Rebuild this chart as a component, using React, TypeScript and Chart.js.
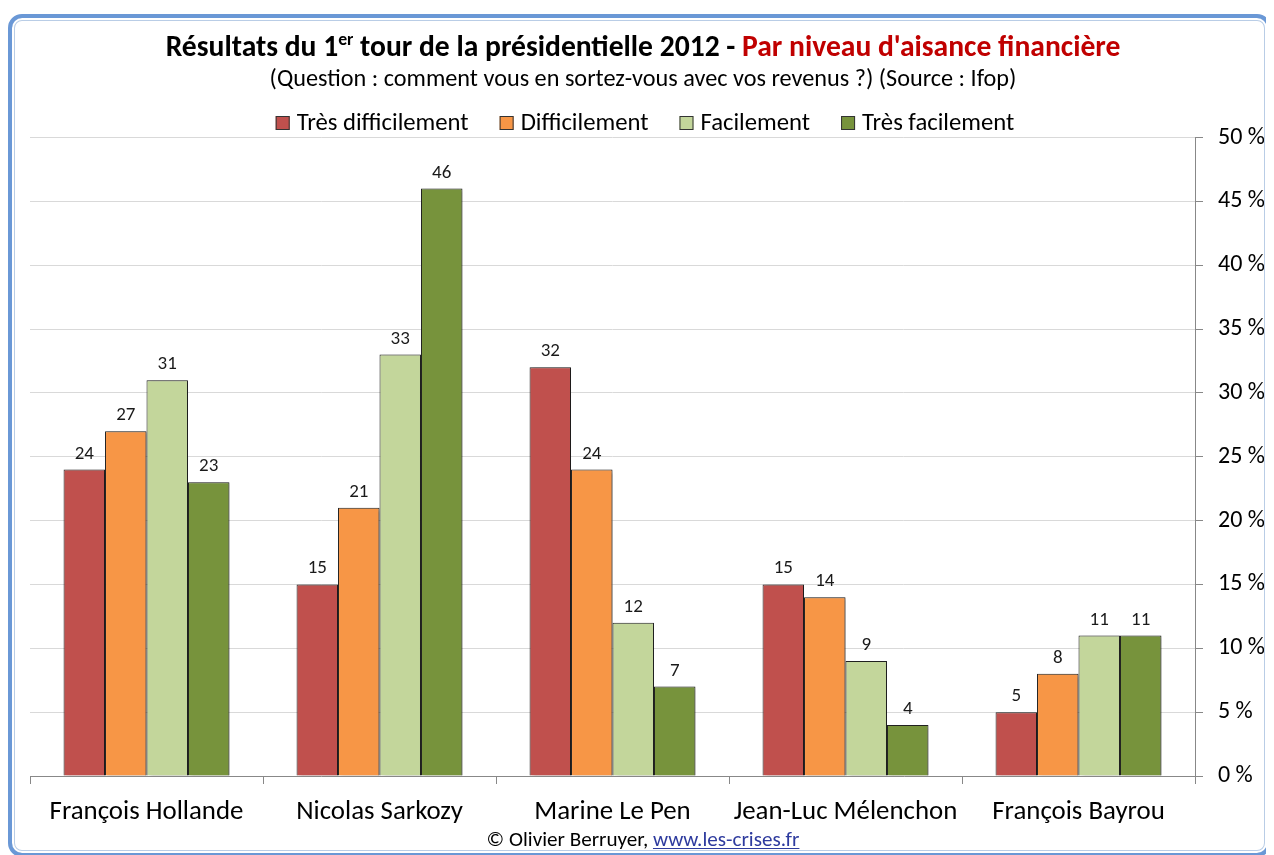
import React, { useEffect, useRef } from "react";
import { Chart, registerables } from "chart.js";
Chart.register(...registerables);

const candidates = ["François Hollande", "Nicolas Sarkozy", "Marine Le Pen", "Jean-Luc Mélenchon", "François Bayrou"];
const tresDifficilement = [24, 15, 32, 15, 5];
const difficilement = [27, 21, 24, 14, 8];
const facilement = [31, 33, 12, 9, 11];
const tresFacilement = [23, 46, 7, 4, 11];
const seriesNames = ["Très difficilement", "Difficilement", "Facilement", "Très facilement"];
const seriesColors = ["#c0504d", "#f79646", "#c3d69b", "#77933c"];
const seriesValues = [tresDifficilement, difficilement, facilement, tresFacilement];

const titleBlack1 = "Résultats du 1";
const titleSup = "er";
const titleBlack2 = " tour de la présidentielle 2012 - ";
const titleRed = "Par niveau d'aisance financière";
const subtitle = "(Question : comment vous en sortez-vous avec vos revenus ?) (Source : Ifop)";
const footerText = "© Olivier Berruyer, ";
const footerLink = "www.les-crises.fr";

const FONT = "Carlito, Lato, 'Open Sans', sans-serif";

function fitSize(text: string, weight: string, target: number): number {
  const c = document.createElement("canvas").getContext("2d")!;
  c.font = `${weight} 100px ${FONT}`;
  return (100 * target) / c.measureText(text).width;
}

const overlay = {
  id: "overlay",
  beforeDatasetsDraw(chart: any) {
    const ctx = chart.ctx;
    ctx.save();
    ctx.shadowColor = "rgba(0,0,0,0.35)";
    ctx.shadowBlur = 3;
    ctx.shadowOffsetX = 2;
    ctx.shadowOffsetY = 1;
  },
  afterDatasetsDraw(chart: any) {
    const ctx = chart.ctx;
    ctx.restore();
    ctx.save();
    ctx.fillStyle = "#1a1a1a";
    ctx.font = `19px ${FONT}`;
    ctx.textAlign = "center";
    ctx.textBaseline = "alphabetic";
    chart.data.datasets.forEach((ds: any, i: number) => {
      const meta = chart.getDatasetMeta(i);
      meta.data.forEach((el: any, j: number) => {
        ctx.fillText(String(ds.data[j]), el.x, el.y - 11);
      });
    });
    ctx.restore();
  },
  afterDraw(chart: any) {
    const ctx = chart.ctx;
    const cx = 643;
    ctx.save();
    ctx.textBaseline = "alphabetic";
    ctx.textAlign = "left";
    // Title
    const ts = fitSize(titleBlack1 + titleBlack2 + titleRed, "bold", 940);
    const big = `bold ${ts}px ${FONT}`;
    const sup = `bold ${ts * 0.6}px ${FONT}`;
    const parts = [
      { t: titleBlack1, f: big, c: "#000", dy: 0 },
      { t: titleSup, f: sup, c: "#000", dy: -ts * 0.38 },
      { t: titleBlack2, f: big, c: "#000", dy: 0 },
      { t: titleRed, f: big, c: "#c00000", dy: 0 },
    ];
    let total = 0;
    parts.forEach((p) => { ctx.font = p.f; total += ctx.measureText(p.t).width; });
    let x = cx - total / 2;
    parts.forEach((p) => {
      ctx.font = p.f; ctx.fillStyle = p.c;
      ctx.fillText(p.t, x, 56 + p.dy);
      x += ctx.measureText(p.t).width;
    });
    // Subtitle
    const ss = fitSize(subtitle, "normal", 747);
    ctx.font = `${ss}px ${FONT}`;
    ctx.fillStyle = "#000";
    ctx.textAlign = "center";
    ctx.fillText(subtitle, cx, 86);
    // Legend
    const ls = fitSize(seriesNames[0], "normal", 172);
    ctx.font = `${ls}px ${FONT}`;
    ctx.textAlign = "left";
    const box = 14, gapBT = 7, gapItems = 31;
    const widths = seriesNames.map((n) => ctx.measureText(n).width);
    const lw = widths.reduce((a, w) => a + box + gapBT + w, 0) + gapItems * (seriesNames.length - 1);
    let lx = 645 - lw / 2;
    seriesNames.forEach((n, i) => {
      ctx.fillStyle = seriesColors[i];
      ctx.fillRect(lx, 116, box, box);
      ctx.strokeStyle = "#333";
      ctx.lineWidth = 1;
      ctx.strokeRect(lx + 0.5, 116.5, box - 1, box - 1);
      ctx.fillStyle = "#000";
      ctx.fillText(n, lx + box + gapBT, 130);
      lx += box + gapBT + widths[i] + gapItems;
    });
    // Footer
    const fs = fitSize(footerText + footerLink, "normal", 313);
    ctx.font = `${fs}px ${FONT}`;
    const w1 = ctx.measureText(footerText).width;
    const w2 = ctx.measureText(footerLink).width;
    let fx = cx - (w1 + w2) / 2;
    ctx.fillStyle = "#000";
    ctx.fillText(footerText, fx, 846);
    ctx.fillStyle = "#2e3b9e";
    ctx.fillText(footerLink, fx + w1, 846);
    ctx.fillRect(fx + w1, 848, w2, 1);
    ctx.restore();
  },
};

export default function App() {
  const ref = useRef<HTMLCanvasElement>(null);
  useEffect(() => {
    const xSize = fitSize(candidates[0], "normal", 194);
    const ySize = fitSize("50 %", "normal", 47);
    const chart = new Chart(ref.current!, {
      type: "bar",
      data: {
        labels: candidates,
        datasets: seriesNames.map((n, i) => ({
          label: n,
          data: seriesValues[i],
          backgroundColor: seriesColors[i],
          borderColor: "#222",
          borderWidth: 1,
          categoryPercentage: 0.712,
          barPercentage: 1,
        })),
      },
      options: {
        responsive: false,
        animation: false,
        layout: { padding: { left: 30, top: 137.5, right: 0, bottom: 0 } },
        plugins: { legend: { display: false }, title: { display: false }, tooltip: { enabled: false } },
        scales: {
          x: {
            grid: { display: true, drawOnChartArea: false, tickLength: 8, tickColor: "#888", offset: true },
            border: { color: "#888", width: 1 },
            ticks: { color: "#000", font: { family: FONT, size: xSize }, padding: 12, maxRotation: 0 },
            afterFit: (s: any) => { s.height = 79; },
          },
          y: {
            position: "right",
            min: 0,
            max: 50,
            grid: { color: "#d9d9d9", tickColor: "#888", tickLength: 8 },
            border: { color: "#888", width: 1 },
            ticks: {
              stepSize: 5,
              color: "#000",
              padding: 15,
              font: { family: FONT, size: ySize },
              callback: (v: any) => `${v} %`,
            },
            afterFit: (s: any) => { s.width = 79; },
          },
        },
      },
      plugins: [overlay],
    });
    return () => chart.destroy();
  }, []);
  return (
    <div style={{ position: "relative", width: 1274, height: 855, margin: "-8px 0 0 -8px", overflow: "hidden", background: "#fff" }}>
      <canvas ref={ref} width={1274} height={855} style={{ position: "absolute", left: 0, top: 0 }} />
      <div
        style={{
          position: "absolute",
          left: 8,
          top: 14,
          width: 1263,
          height: 843,
          boxSizing: "border-box",
          border: "4px solid #6a98d6",
          borderRadius: 14,
          boxShadow: "inset 0 0 0 2px #fff, inset 0 0 0 3px #b9cde6",
          pointerEvents: "none",
        }}
      />
    </div>
  );
}
